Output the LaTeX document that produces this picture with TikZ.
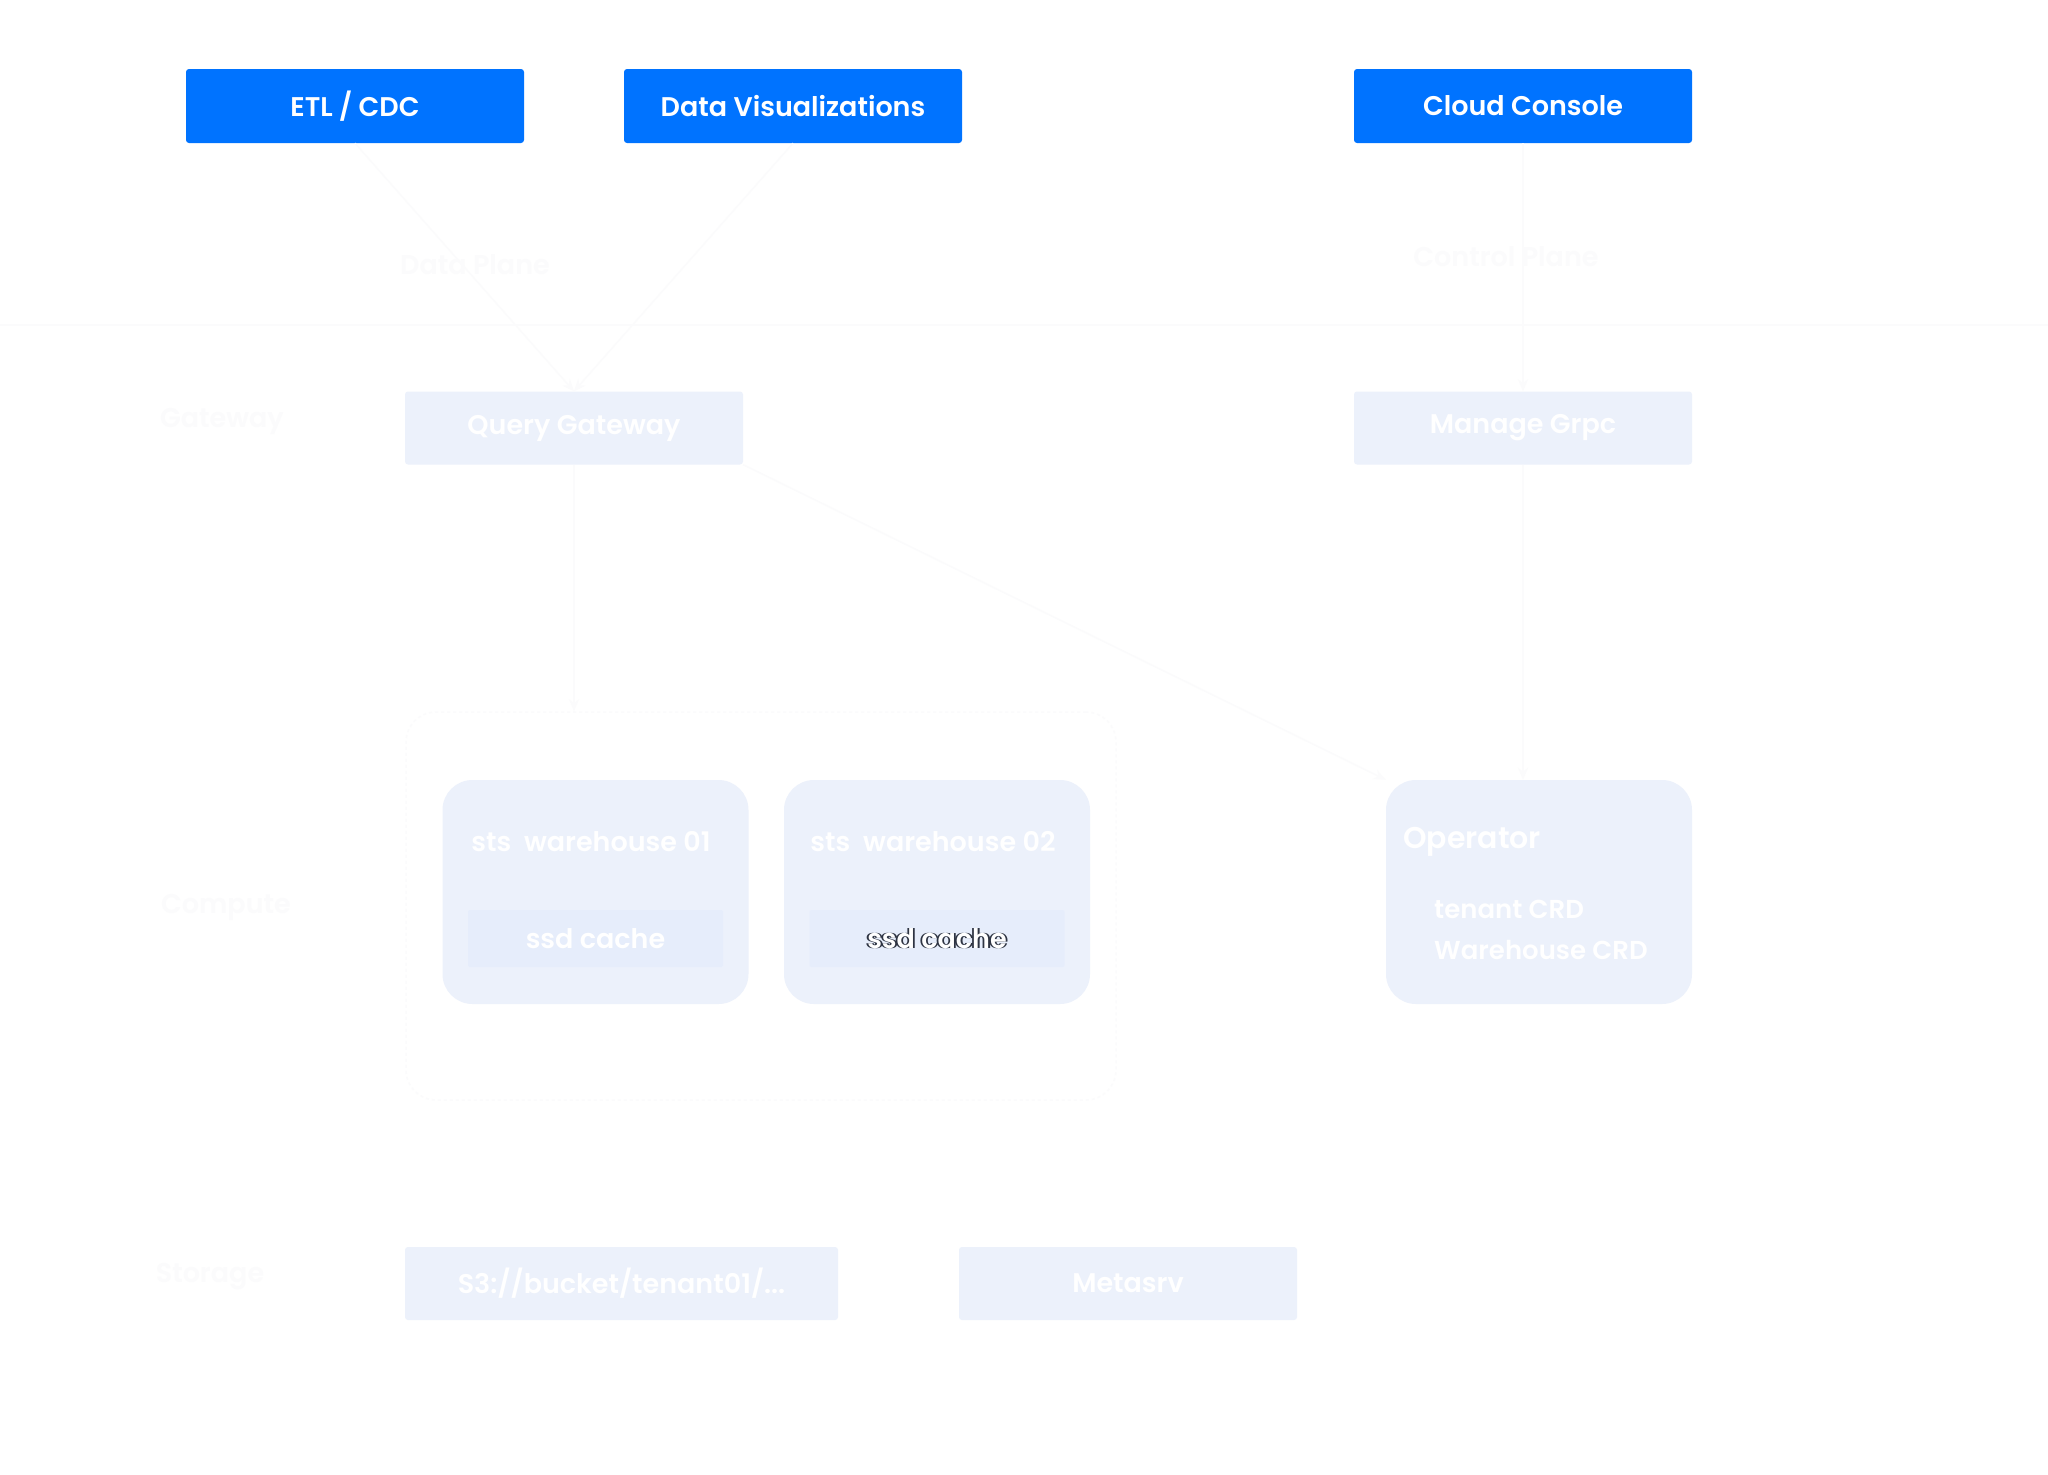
\documentclass[tikz,border=0pt]{standalone}
\usepackage{fontspec}
\usetikzlibrary{arrows.meta}
\IfFontExistsTF{Poppins SemiBold}
  {\newfontfamily\pf{Poppins SemiBold}}
  {\newfontfamily\pfx{Poppins}\newcommand\pf{\pfx\bfseries}}
\definecolor{cblue}{HTML}{0073FF}
\definecolor{clight}{HTML}{ECF1FB}
\definecolor{cinner}{HTML}{E6EDFB}
\definecolor{cfaint}{HTML}{FBFBFC}
\definecolor{cdark}{HTML}{2E3443}
\begin{document}
\begin{tikzpicture}[x=1pt,y=-1pt,
  bluebox/.style={fill=cblue, rounded corners=3pt, inner sep=0pt, text=white,
    minimum width=338pt, minimum height=74pt, font=\pf\fontsize{27}{33}\selectfont},
  lightbox/.style={fill=clight, rounded corners=3pt, inner sep=0pt, text=white,
    minimum height=73pt, font=\pf\fontsize{27}{33}\selectfont},
  whbox/.style={fill=clight, rounded corners=30pt, inner sep=0pt,
    minimum width=306pt, minimum height=224pt},
  cachebox/.style={fill=cinner, rounded corners=2pt, inner sep=0pt,
    minimum width=255pt, minimum height=57pt},
  wtext/.style={text=white, inner sep=0pt, font=\pf\fontsize{27}{33}\selectfont},
  ftext/.style={text=cfaint, inner sep=0pt, font=\pf\fontsize{27}{33}\selectfont},
  faint/.style={draw=cfaint, line width=1.5pt},
  fainttip/.style={faint, -{Stealth[length=12pt,width=10pt]}}
]
\useasboundingbox[fill=white] (0,0) rectangle (2048,1475);

% faint background structure
\coordinate (sepL) at (0,325);
\coordinate (sepR) at (2048,325);
\draw[faint] (sepL) -- (sepR);
\node[draw=cfaint, dashed, line width=1.5pt, rounded corners=30pt, minimum width=710pt,
  minimum height=388pt, inner sep=0pt] (grp) at (761,906) {};

% top row
\node[bluebox] (etl) at (355,106) {ETL / CDC};
\node[bluebox] (viz) at (793,106) {Data Visualizations};
\node[bluebox] (cloud) at (1523,106) {Cloud Console};

% gateways
\node[lightbox, minimum width=338pt] (qg) at (574,428) {Query Gateway};
\node[lightbox, minimum width=338pt] (mg) at (1523,428) {Manage Grpc};

% warehouses
\node[whbox] (wh1) at (595.5,892) {};
\node[whbox] (wh2) at (937,892) {};
\node[whbox] (op) at (1539,892) {};

\node[cachebox] (c1) at (595.5,938.5) {};
\node[cachebox] (c2) at (937,938.5) {};

\node[wtext] (wh1t) at (591,842) {sts~ warehouse 01};
\node[wtext] (wh2t) at (933,842) {sts~ warehouse 02};
\node[wtext] (c1t) at (c1) {ssd cache};
\node[text=cdark, inner sep=0pt, font=\pf\fontsize{27}{33}\selectfont] (c2s1) at ([xshift=-1.8pt]c2) {ssd cache};
\node[text=cdark, inner sep=0pt, font=\pf\fontsize{27}{33}\selectfont] (c2s2) at ([xshift=1.8pt]c2) {ssd cache};
\node[wtext] (c2t) at (c2) {ssd cache};

\node[wtext, anchor=west, font=\pf\fontsize{30}{36}\selectfont] (opt) at (1403,842) {Operator};
\node[wtext, anchor=west, font=\pf\fontsize{26}{32}\selectfont] (crd1) at (1434,909) {tenant CRD};
\node[wtext, anchor=west, font=\pf\fontsize{26}{32}\selectfont] (crd2) at (1434,950) {Warehouse CRD};

% storage
\node[lightbox, minimum width=433pt] (s3) at (621.5,1283.5) {S3://bucket/tenant01/...};
\node[lightbox, minimum width=338pt] (meta) at (1128,1283.5) {Metasrv};

% faint labels
\node[ftext] (lbdp) at (475,265) {Data Plane};
\node[ftext] (lbcp) at (1506,257) {Control Plane};
\node[ftext] (lbgw) at (222,421) {Gateway};
\node[ftext] (lbcm) at (226,908) {Compute};
\node[ftext] (lbst) at (210,1277) {Storage};

% faint connectors
\draw[fainttip] (etl.south) -- (qg.north);
\draw[fainttip] (viz.south) -- (qg.north);
\draw[fainttip] (qg.south) -- (grp.north -| qg.south);
\draw[fainttip] (cloud.south) -- (mg.north);
\draw[fainttip] (mg.south) -- (op.north -| mg.south);
\draw[fainttip] (qg.south east) -- (op.north west);
\end{tikzpicture}
\end{document}
